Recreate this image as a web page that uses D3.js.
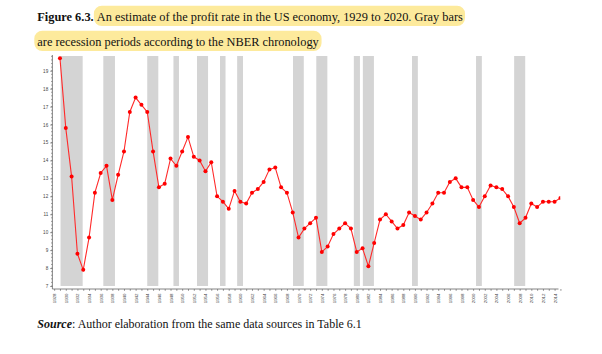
<!DOCTYPE html>
<html><head><meta charset="utf-8">
<script src="https://cdn.jsdelivr.net/npm/d3@7"></script>
<style>html,body{margin:0;padding:0;background:#fff;} svg{display:block}</style>
</head><body>
<svg id="c" width="602" height="354"></svg>
<script>
// ---- data ----
const firstYear = 1929;
const profitRate = [19.7,15.8,13.1,8.8,7.9,9.7,12.2,13.3,13.7,11.8,
  13.2,14.5,16.7,17.5,17.1,16.7,14.5,12.5,12.7,14.1,
  13.7,14.5,15.3,14.2,14.0,13.4,13.9,12.0,11.7,11.3,
  12.3,11.7,11.6,12.2,12.4,12.8,13.5,13.6,12.5,12.2,
  11.1,9.7,10.2,10.5,10.8,8.9,9.2,9.9,10.2,10.5,
  10.2,8.9,9.1,8.1,9.4,10.7,11.0,10.6,10.2,10.4,
  11.1,10.9,10.7,11.1,11.6,12.2,12.2,12.8,13.0,12.5,
  12.5,11.8,11.4,12.0,12.6,12.5,12.4,12.0,11.4,10.5,
  10.8,11.6,11.4,11.7,11.7,11.7,11.9];
const years = profitRate.map((v, i) => firstYear + i);
const recessionStart = [1929.1,1936.45,1944.0,1948.5,1952.55,1956.5,1959.45,1969.05,1973.05,1979.5,1981.05,1989.5,2000.5,2007.05];
const recessionEnd   = [1932.9,1938.45,1945.9,1949.45,1954.45,1957.45,1960.45,1970.9,1974.95,1980.55,1982.95,1990.5,2001.5,2008.95];
const yTickLabels = [7,8,9,10,11,12,13,14,15,16,17,18,19];
const xTickLabels = [1928,1930,1932,1934,1936,1938,1940,1942,1944,1946,1948,1950,1952,1954,1956,1958,1960,1962,1964,1966,1968,1970,1972,1974,1976,1978,1980,1982,1984,1986,1988,1990,1992,1994,1996,1998,2000,2002,2004,2006,2008,2010,2012,2014];
const titleBold = "Figure 6.3.";
const titleLine1 = "An estimate of the profit rate in the US economy, 1929 to 2020. Gray bars";
const titleLine2 = "are recession periods according to the NBER chronology";
const sourceBold = "Source";
const sourceRest = ": Author elaboration from the same data sources in Table 6.1";

// ---- layout ----
const svg = d3.select("#c");
const x = d3.scaleLinear().domain([1927.7, 2015.05]).range([52.4, 560.7]);
const y = d3.scaleLinear().domain([7, 19.82]).range([286, 56]);
const axisY = 289;
const serif = "'Liberation Serif','Times New Roman',serif";
const hl = "#fdea9c";

// title
const tg = svg.append("g");
const hlg = tg.append("g");
const fs = 12.35;
const tb = tg.append("text").attr("x", 37.3).attr("y", 20.7)
  .attr("font-family", serif).attr("font-size", fs).attr("font-weight", "bold")
  .attr("fill", "#111").text(titleBold);
const wb = tb.node().getComputedTextLength();
const t1 = tg.append("text").attr("x", 37.3 + wb + 3.2).attr("y", 20.7)
  .attr("font-family", serif).attr("font-size", fs).attr("fill", "#111").text(titleLine1);
const t2 = tg.append("text").attr("x", 37.3).attr("y", 45.7)
  .attr("font-family", serif).attr("font-size", fs).attr("fill", "#111").text(titleLine2);
[[t1, 20.7], [t2, 45.7]].forEach(([t, base]) => {
  const bb = t.node().getBBox();
  hlg.append("rect").attr("x", bb.x - 3).attr("y", base - 15)
    .attr("width", bb.width + 5).attr("height", 20.3)
    .attr("rx", 8).attr("ry", 8).attr("fill", hl);
});

// recession bars
svg.append("g").selectAll("rect").data(recessionStart).join("rect")
  .attr("x", (d) => x(d))
  .attr("y", y(19.82))
  .attr("width", (d, i) => x(recessionEnd[i]) - x(d))
  .attr("height", y(7) - y(19.82))
  .attr("fill", "#d4d4d4");

// y axis
const axisColor = "#666";
const yMinor = d3.range(7, 19.81, 0.2);
svg.append("g").selectAll("line").data(yMinor).join("line")
  .attr("x1", 51).attr("x2", 52.4)
  .attr("y1", (d) => y(d)).attr("y2", (d) => y(d))
  .attr("stroke", axisColor).attr("stroke-width", 0.6);
const gy = svg.append("g").attr("transform", "translate(52.4,0)")
  .call(d3.axisLeft(y).tickValues(yTickLabels).tickSize(2.2).tickSizeOuter(0).tickPadding(2).tickFormat(d3.format("d")));
gy.select(".domain").remove();
gy.selectAll(".tick line").attr("stroke", axisColor).attr("stroke-width", 0.7);
gy.selectAll(".tick text").attr("font-family", "'Liberation Sans',Arial,sans-serif")
  .attr("font-size", 4.6).attr("fill", "#444");
svg.append("line").attr("x1", 52.4).attr("x2", 52.4).attr("y1", 55).attr("y2", axisY)
  .attr("stroke", axisColor).attr("stroke-width", 0.8);

// x axis
const allYears = d3.range(1928, 2016);
const gx = svg.append("g").attr("transform", `translate(0,${axisY})`)
  .call(d3.axisBottom(x).tickValues(allYears).tickSize(1.8).tickSizeOuter(0)
    .tickFormat((d) => xTickLabels.includes(d) ? String(d) : ""));
gx.select(".domain").remove();
svg.append("line").attr("x1", 52.4).attr("x2", 558.5).attr("y1", axisY).attr("y2", axisY)
  .attr("stroke", axisColor).attr("stroke-width", 0.8);
gx.selectAll(".tick line").attr("stroke", axisColor).attr("stroke-width", 0.7);
gx.selectAll(".tick text")
  .attr("transform", "rotate(-90)")
  .attr("x", -4.5).attr("y", 0).attr("dy", "0.35em")
  .attr("text-anchor", "end")
  .attr("font-family", "'Liberation Sans',Arial,sans-serif")
  .attr("font-size", 4.4).attr("fill", "#444");

// line + points
svg.append("clipPath").attr("id", "clip").append("rect")
  .attr("x", 52.4).attr("y", 45).attr("width", 560.2 - 52.4).attr("height", 250);
const pg = svg.append("g").attr("clip-path", "url(#clip)");
const line = d3.line().x((d, i) => x(years[i])).y((d) => y(d));
pg.append("path").datum(profitRate).attr("d", line)
  .attr("fill", "none").attr("stroke", "#ff2a2a").attr("stroke-width", 1.1);
pg.selectAll("circle").data(profitRate).join("circle")
  .attr("cx", (d, i) => x(years[i])).attr("cy", (d) => y(d))
  .attr("r", 2).attr("fill", "#ff0000");

// source
const st = svg.append("text").attr("x", 37.3).attr("y", 327.7)
  .attr("font-family", serif).attr("font-size", 12.0).attr("fill", "#111");
st.append("tspan").attr("font-weight", "bold").attr("font-style", "italic").text(sourceBold);
st.append("tspan").text(sourceRest);
</script></body></html>
